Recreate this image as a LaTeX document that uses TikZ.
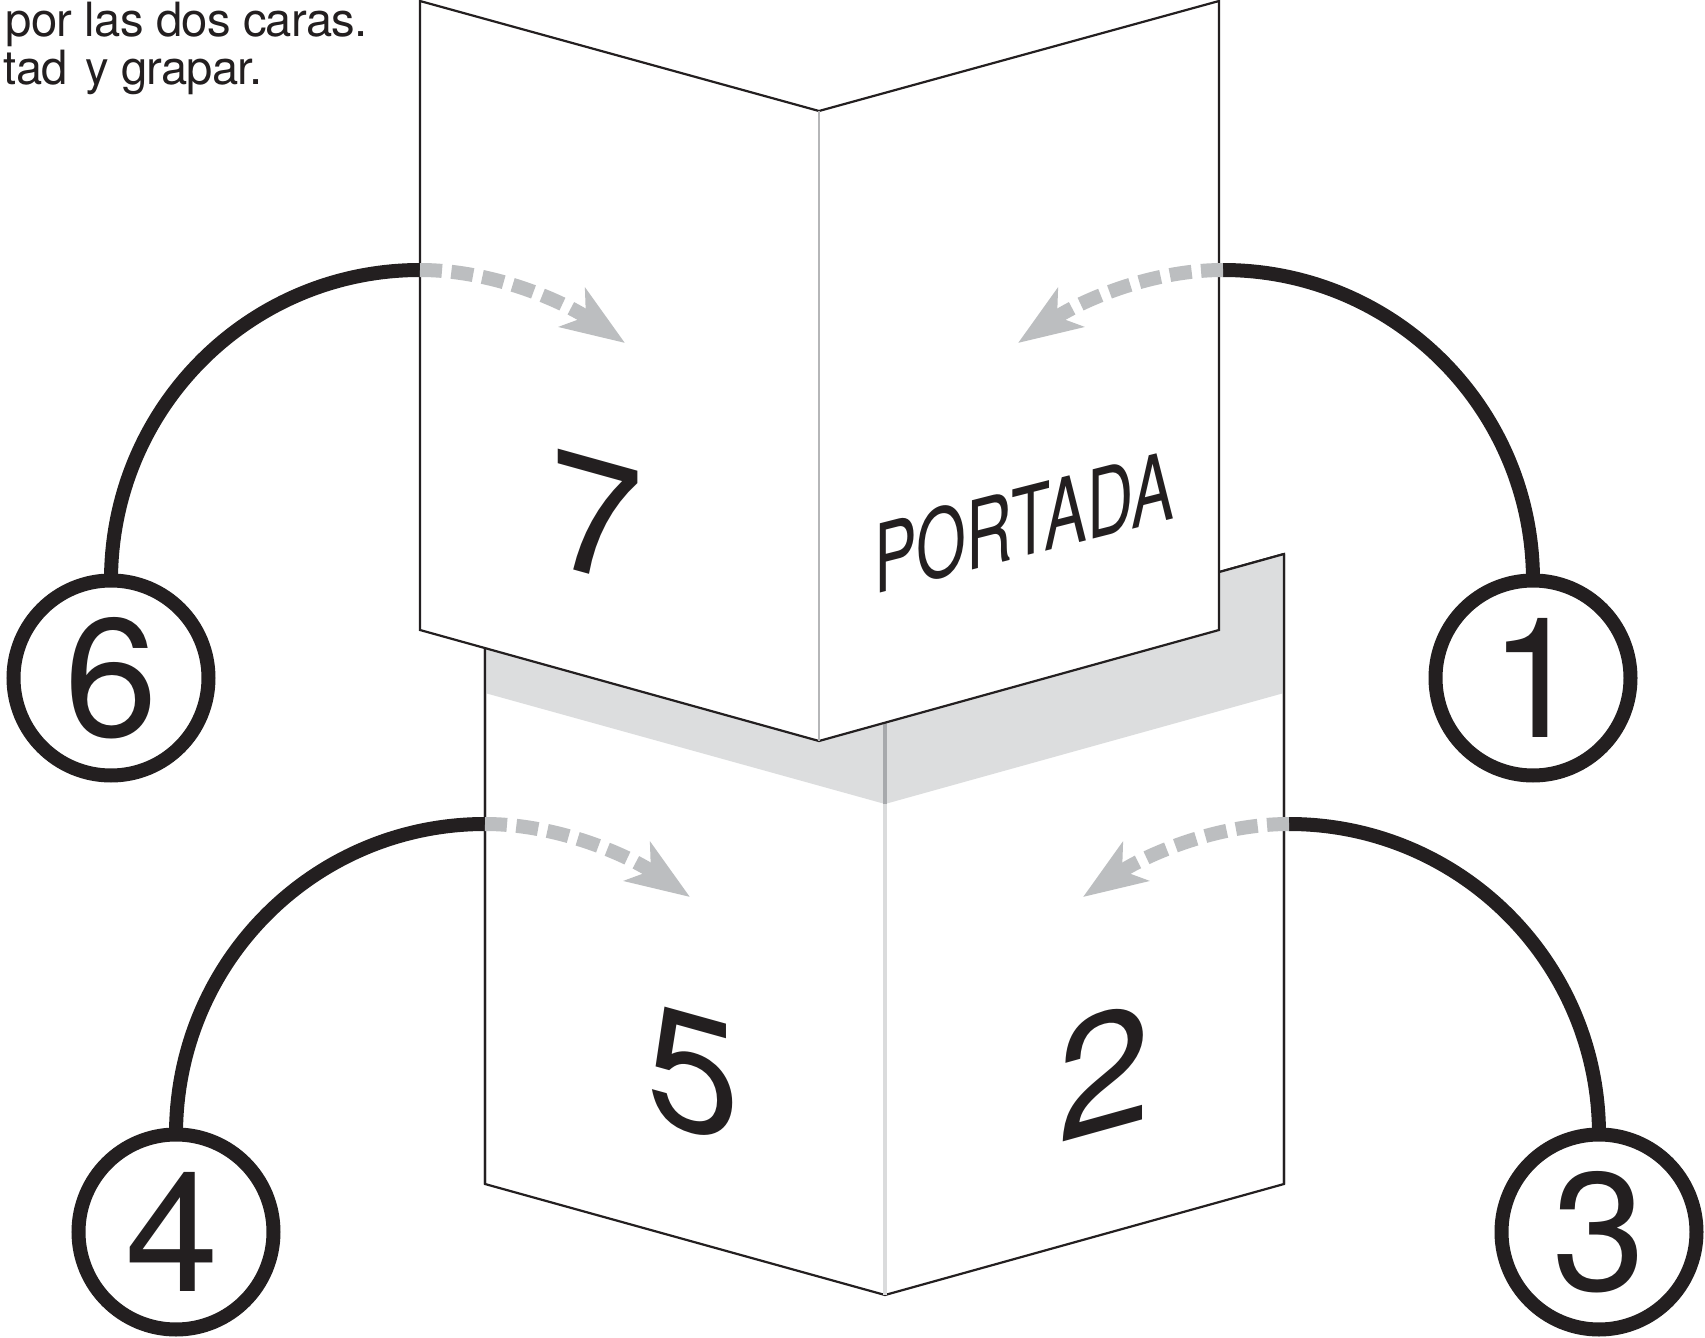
\documentclass[tikz,border=0pt]{standalone}
\usepackage{fontspec}
\setmainfont{TeX Gyre Heros}
\newfontfamily\notefont[LetterSpace=-1.6]{TeX Gyre Heros}
\usetikzlibrary{arrows.meta}
\definecolor{ink}{HTML}{231F20}
\definecolor{arrowgrey}{HTML}{BCBEC0}
\definecolor{band}{HTML}{DCDDDE}
\definecolor{foldlight}{HTML}{DADBDC}
\definecolor{foldmid}{HTML}{B5B6B8}
\definecolor{folddark}{HTML}{A7A9AC}
\tikzset{
  x=0.5pt,y=-0.5pt,
  panel/.style={draw=ink,line width=1.1pt,line join=miter,fill=white},
  numcircle/.style={circle,draw=ink,line width=7pt,minimum size=97.5pt,inner sep=0pt,outer sep=0pt,text=ink,font=\fontsize{84}{84}\selectfont},
  link/.style={draw=ink,line width=7pt},
  fold/.style={arrowgrey,line width=7pt,dash pattern=on 11pt off 4.7pt,-{Stealth[length=31.5pt,width=23pt,inset=8pt]}},
  facetext/.style={transform shape,text=ink,inner sep=0pt,font=\fontsize{84}{84}\selectfont},
  note/.style={text=ink,inner sep=0pt,font=\notefont\fontsize{23.6}{23.6}\selectfont},
}
\begin{document}
\begin{tikzpicture}
\useasboundingbox (0,0) rectangle (1705,1338);
% lower panel
\coordinate (ltl) at (485,554);
\coordinate (ltm) at (885,665);
\coordinate (ltr) at (1284,554);
\coordinate (lbl) at (485,1184);
\coordinate (lbm) at (885,1295);
\coordinate (lbr) at (1284,1184);
\coordinate (bl) at (485,693);
\coordinate (bm) at (885,804);
\coordinate (br) at (1284,693);
\draw[panel] (ltl) -- (ltm) -- (ltr) -- (lbr) -- (lbm) -- (lbl) -- cycle;
\fill[band] (ltl) -- (ltm) -- (ltr) -- (br) -- (bm) -- (bl) -- cycle;
\draw[draw=ink,line width=1.1pt] (lbl) -- (ltl) (ltr) -- (lbr) (ltm) -- (ltr);
\draw[foldlight,line width=1.8pt] (bm) -- (lbm);
\draw[folddark,line width=1.8pt] (ltm) -- (bm);
% upper panel
\coordinate (utl) at (420,1);
\coordinate (utm) at (819,111);
\coordinate (utr) at (1219,1);
\coordinate (ubl) at (420,630);
\coordinate (ubm) at (819,741);
\coordinate (ubr) at (1219,630);
\draw[panel] (utl) -- (utm) -- (utr) -- (ubr) -- (ubm) -- (ubl) -- cycle;
\draw[foldmid,line width=1.4pt] (utm) -- (ubm);
% note
\node[note,anchor=base east] (n1) at (368,37) {por las dos caras.};
\node[note,anchor=base east] (n2) at (263,85) {tad\hspace{2.5pt} y grapar.};
% face texts
\begin{scope}[shift={(597,518)},yslant=-0.278]\node[facetext] (f7) {7};\end{scope}
\begin{scope}[shift={(693,1074)},yslant=-0.278]\node[facetext] (f5) {5};\end{scope}
\begin{scope}[shift={(1104,1071)},yslant=0.278]\node[facetext] (f2) {2};\end{scope}
\begin{scope}[shift={(1024,522)},yslant=0.255,xscale=0.675]\node[facetext,font=\fontsize{47.5}{47.5}\selectfont] (fp) {PORTADA};\end{scope}
% circles
\node[numcircle] (c6) at (111,678) {6};
\node[numcircle] (c1) at (1533,678) {\kern3pt 1};
\node[numcircle] (c4) at (176,1232) {\kern-4pt 4};
\node[numcircle] (c3) at (1599,1232) {3};
% connectors
\coordinate (s6) at (420,270);
\coordinate (s1) at (1223,270);
\coordinate (s4) at (485,824);
\coordinate (s3) at (1289,824);
\coordinate (t6) at (625,343);
\coordinate (t1) at (1018,343);
\coordinate (t4) at (690,897);
\coordinate (t3) at (1083,897);
\draw[link] (c6.north) .. controls +(0,-172) and +(-171,0) .. (s6);
\draw[link] (c1.north) .. controls +(0,-172) and +(171,0) .. (s1);
\draw[link] (c4.north) .. controls +(0,-172) and +(-171,0) .. (s4);
\draw[link] (c3.north) .. controls +(0,-172) and +(171,0) .. (s3);
\draw[fold] (s6) .. controls +(74,0) and +(-61,-41) .. (t6);
\draw[fold] (s1) .. controls +(-74,0) and +(61,-41) .. (t1);
\draw[fold] (s4) .. controls +(74,0) and +(-61,-41) .. (t4);
\draw[fold] (s3) .. controls +(-74,0) and +(61,-41) .. (t3);
\end{tikzpicture}
\end{document}
